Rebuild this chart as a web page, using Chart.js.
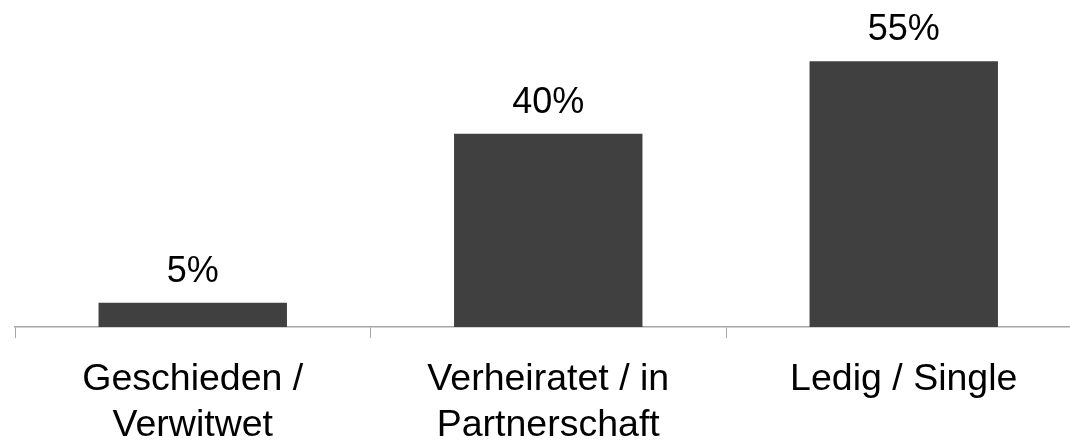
<!DOCTYPE html>
<html>
<head>
<meta charset="utf-8">
<script src="https://cdn.jsdelivr.net/npm/chart.js@4.4.0/dist/chart.umd.min.js"></script>
<style>
    html, body { margin: 0; padding: 0; background: #fff; overflow: hidden; }
    .wrap { width: 1070px; height: 443px; overflow: hidden; }
    .inner { width: 1100px; height: 443px; }
</style>
</head>
<body>
<div class="wrap"><div class="inner"><canvas id="chart"></canvas></div></div>
<script>
/* ================= DATA ================= */
const categories = [
    ['Geschieden /', 'Verwitwet'],
    ['Verheiratet / in', 'Partnerschaft'],
    ['Ledig / Single']
];
const shares = [5, 40, 55];

const FONT = '"Liberation Sans", Arial, sans-serif';

/* ================= VALUE LABELS ABOVE BARS ================= */
const valueLabels = {
    id: 'valueLabels',
    afterDatasetsDraw(chart) {
        const ctx = chart.ctx;
        const meta = chart.getDatasetMeta(0);
        ctx.save();
        ctx.font = '36px ' + FONT;
        ctx.fillStyle = '#000';
        ctx.textAlign = 'center';
        ctx.textBaseline = 'alphabetic';
        meta.data.forEach((bar, i) => {
            ctx.fillText(shares[i] + '%', bar.x, bar.y - 21);
        });
        ctx.restore();
    }
};

/* ================= CHART ================= */
new Chart(document.getElementById('chart'), {
    type: 'bar',
    data: {
        labels: categories,
        datasets: [{
            data: shares,
            backgroundColor: '#404040',
            borderWidth: 0,
            categoryPercentage: 1,
            barPercentage: 0.53
        }]
    },
    options: {
        responsive: true,
        maintainAspectRatio: false,
        animation: false,
        layout: { padding: { left: 15, right: 18.5, top: 37, bottom: 0 } },
        plugins: {
            legend: { display: false },
            tooltip: { enabled: false }
        },
        scales: {
            x: {
                offset: true,
                grid: {
                    offset: true,
                    drawOnChartArea: false,
                    drawTicks: true,
                    tickLength: 11,
                    color: '#a6a6a6',
                    lineWidth: 1
                },
                border: { display: true, color: '#a6a6a6', width: 1.5 },
                ticks: {
                    color: '#000',
                    padding: 19,
                    maxRotation: 0,
                    autoSkip: false,
                    font: { family: FONT, size: 37.5, lineHeight: 1.22 }
                },
                afterFit: scale => { scale.height = 116; }
            },
            y: {
                display: false,
                min: 0,
                max: 60
            }
        }
    },
    plugins: [valueLabels]
});
</script>
</body>
</html>
